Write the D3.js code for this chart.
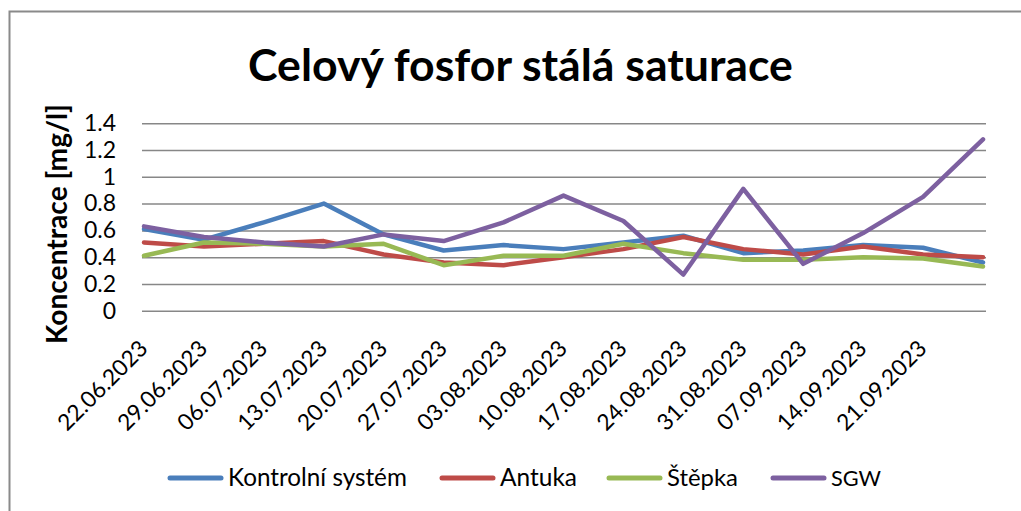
<!DOCTYPE html>
<html lang="cs">
<head>
<meta charset="UTF-8">
<title>Celový fosfor stálá saturace</title>
<script src="https://d3js.org/d3.v7.min.js"></script>
<style>
  body { margin: 0; background: #fff; }
  text { font-family: Lato, "Open Sans", sans-serif; fill: #000; }
</style>
</head>
<body>
<div id="chart"></div>
<script>
// categories (last sampling date has no label on the axis)
const dates = ["22.06.2023", "29.06.2023", "06.07.2023", "13.07.2023", "20.07.2023",
               "27.07.2023", "03.08.2023", "10.08.2023", "17.08.2023", "24.08.2023",
               "31.08.2023", "07.09.2023", "14.09.2023", "21.09.2023", ""];

const kontrolni = [0.61, 0.53, 0.66, 0.80, 0.57, 0.45, 0.49, 0.46, 0.51, 0.56, 0.43, 0.45, 0.49, 0.47, 0.36];
const antuka    = [0.51, 0.48, 0.50, 0.52, 0.42, 0.36, 0.34, 0.40, 0.46, 0.55, 0.46, 0.42, 0.48, 0.42, 0.40];
const stepka    = [0.41, 0.51, 0.50, 0.48, 0.50, 0.34, 0.41, 0.41, 0.50, 0.43, 0.38, 0.38, 0.40, 0.39, 0.33];
const sgw       = [0.63, 0.55, 0.51, 0.48, 0.57, 0.52, 0.66, 0.86, 0.67, 0.27, 0.91, 0.35, 0.58, 0.85, 1.28];

const yTicks = [0, 0.2, 0.4, 0.6, 0.8, 1, 1.2, 1.4];

const seriesNames = ["Kontrolní systém", "Antuka", "Štěpka", "SGW"];
const seriesValues = [kontrolni, antuka, stepka, sgw];
const colors = ["#4A7EBB", "#BE4B48", "#98B954", "#7D60A0"];

const W = 1021, H = 511;
const svg = d3.select("#chart").append("svg")
  .attr("width", W).attr("height", H);

// outer chart frame (runs off the right and bottom edge)
svg.append("rect")
  .attr("x", 9.5).attr("y", 11.5)
  .attr("width", W + 20).attr("height", H + 20)
  .attr("fill", "none").attr("stroke", "#8a8a8a").attr("stroke-width", 2);

const plot = { left: 142, right: 986, top: 123.3, bottom: 310.7 };

const x = d3.scalePoint()
  .domain(d3.range(dates.length))
  .range([144, 983]);

const y = d3.scaleLinear()
  .domain([0, 1.4])
  .range([plot.bottom, plot.top]);

// fit text to a measured width
function fit(sel, width) {
  const w = sel.node().getComputedTextLength();
  const fs = parseFloat(sel.attr("font-size"));
  sel.attr("font-size", fs * width / w);
}

// title
const title = svg.append("text")
  .attr("x", (248 + 793) / 2).attr("y", 81)
  .attr("text-anchor", "middle")
  .attr("font-weight", "bold")
  .attr("font-size", 40)
  .text("Celový fosfor stálá saturace");
fit(title, 545);

// gridlines + y tick labels
const yAxis = svg.append("g")
  .attr("transform", `translate(${plot.left},0)`)
  .call(d3.axisLeft(y).tickValues(yTicks).tickSize(-(plot.right - plot.left))
    .tickPadding(26).tickFormat(d3.format("")));
yAxis.select(".domain").remove();
yAxis.selectAll(".tick line").attr("stroke", "#878787").attr("stroke-width", 1.5);
yAxis.selectAll(".tick text")
  .attr("font-size", 23).attr("font-family", "Lato, sans-serif").attr("fill", "#000");

// y axis title
const yTitle = svg.append("text")
  .attr("transform", `translate(67,${(103 + 345) / 2}) rotate(-90)`)
  .attr("text-anchor", "middle")
  .attr("font-weight", "bold")
  .attr("font-size", 20)
  .text("Koncentrace [mg/l]");
fit(yTitle, 240);

// x category labels, rotated
const probe = svg.append("text").attr("font-size", 23).text(dates[0]);
fit(probe, 116);
const xFont = probe.attr("font-size");
probe.remove();

const xAxis = svg.append("g");
xAxis.selectAll("text")
  .data(dates.map((d, i) => ({ d, i })).filter(o => o.d !== ""))
  .join("text")
  .attr("transform", o => `translate(${x(o.i) + 5},${350}) rotate(-45)`)
  .attr("text-anchor", "end")
  .attr("font-size", xFont)
  .text(o => o.d);

// lines
const line = d3.line()
  .x((v, i) => x(i))
  .y(v => y(v));

seriesValues.forEach((vals, k) => {
  svg.append("path")
    .datum(vals)
    .attr("fill", "none")
    .attr("stroke", colors[k])
    .attr("stroke-width", 4.5)
    .attr("stroke-linejoin", "round")
    .attr("stroke-linecap", "round")
    .attr("d", line);
});

// legend
const legendX = [168, 440, 607, 771];
const legendTextW = [179, 77, 71, 50];
const legend = svg.append("g");
seriesNames.forEach((name, k) => {
  legend.append("line")
    .attr("x1", legendX[k] + 2).attr("x2", legendX[k] + 53)
    .attr("y1", 478).attr("y2", 478)
    .attr("stroke", colors[k]).attr("stroke-width", 5)
    .attr("stroke-linecap", "round");
  const t = legend.append("text")
    .attr("x", legendX[k] + 60).attr("y", 486)
    .attr("font-size", 23)
    .text(name);
  fit(t, legendTextW[k]);
});
</script>
</body>
</html>
